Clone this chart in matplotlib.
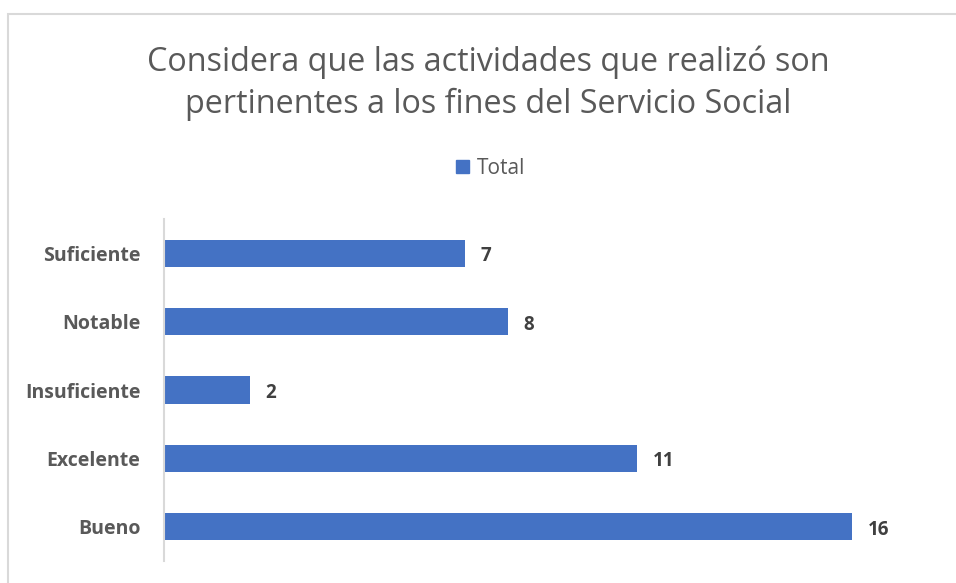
import matplotlib.pyplot as plt
from matplotlib.patches import Rectangle, Patch

categories = ["Bueno", "Excelente", "Insuficiente", "Notable", "Suficiente"]
values = [16, 11, 2, 8, 7]
series_name = "Total"
title = "Considera que las actividades que realizó son\npertinentes a los fines del Servicio Social"

bar_color = "#4472C4"
text_grey = "#595959"
value_color = "#404040"

plt.rcParams['font.family'] = ['Open Sans', 'DejaVu Sans']

W, H = 956, 583
fig = plt.figure(figsize=(W / 100, H / 100), dpi=100)

# outer chart border
fig.patches.append(Rectangle((8 / W, -0.01), 1.2, 1 - 14 / H + 0.01, transform=fig.transFigure,
                             fill=False, edgecolor="#D9D9D9", linewidth=1.5))

# plot area in pixel coords
left, right, top, bottom = 164, 917, 219, 561
ax = fig.add_axes([left / W, 1 - bottom / H, (right - left) / W, (bottom - top) / H])

y = list(range(len(categories)))
ax.barh(y, values, height=0.4, color=bar_color, label=series_name)
for yi, v in zip(y, values):
    ax.text(v + 0.35, yi - 0.045, str(v), va="center", ha="left", fontsize=13.5,
            fontweight="bold", color=value_color)

ax.set_xlim(0, 17.5)
ax.set_ylim(-0.5, len(categories) - 0.5)
ax.set_yticks(y)
ax.set_yticklabels(categories, fontsize=14, fontweight="bold", color=text_grey)
ax.tick_params(axis="y", length=0, pad=17)
ax.set_xticks([])
for s in ["top", "right", "bottom"]:
    ax.spines[s].set_visible(False)
ax.spines["left"].set_color("#D9D9D9")
ax.spines["left"].set_linewidth(1.5)

fig.text(488 / W, 1 - 83 / H, title, ha="center", va="center", fontsize=23.3,
         color=text_grey, linespacing=1.35)

fig.legend(handles=[Patch(color=bar_color, label=series_name)], loc="center",
           bbox_to_anchor=(491 / W, 1 - 168 / H), frameon=False, fontsize=15,
           handlelength=0.6, handleheight=0.6, handletextpad=0.4, labelcolor=text_grey)

fig.savefig("out.png", dpi=100)
